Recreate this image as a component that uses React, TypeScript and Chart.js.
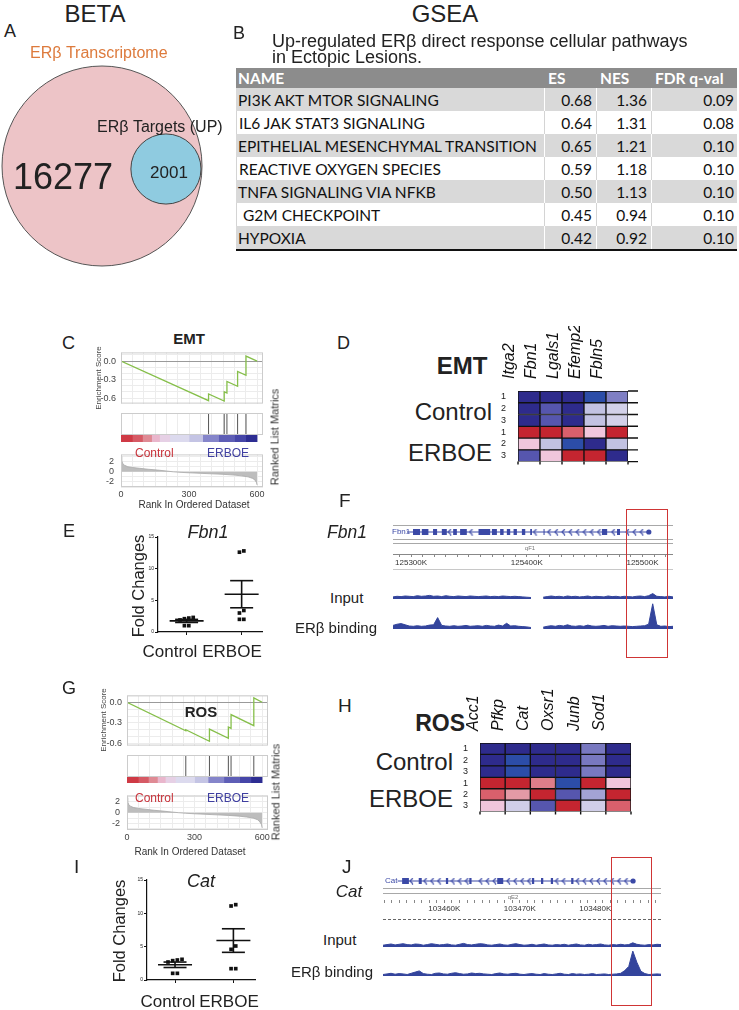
import React, { useEffect, useRef } from 'react';
import { Chart, registerables } from 'chart.js';

Chart.register(...registerables);
const SANS = "'Liberation Sans', Arial, Helvetica, sans-serif";
const TABLE_FONT = "Lato, 'Noto Sans', sans-serif";
Chart.defaults.font.family = SANS;

// ---------------- DATA ----------------
const VENN_LABELS = ['ERβ Transcriptome', 'ERβ Targets (UP)'];
const VENN_COUNTS = [16277, 2001];

const TABLE_COLUMNS = ['NAME', 'ES', 'NES', 'FDR q-val'];
const PATHWAYS = [
  'PI3K AKT MTOR SIGNALING',
  'IL6 JAK STAT3 SIGNALING',
  'EPITHELIAL MESENCHYMAL TRANSITION',
  'REACTIVE OXYGEN SPECIES',
  'TNFA SIGNALING VIA NFKB',
  '\u00a0G2M CHECKPOINT',
  'HYPOXIA',
];
const PATHWAY_ES = [0.68, 0.64, 0.65, 0.59, 0.5, 0.45, 0.42];
const PATHWAY_NES = [1.36, 1.31, 1.21, 1.18, 1.13, 0.94, 0.92];
const PATHWAY_FDR = [0.09, 0.08, 0.1, 0.1, 0.1, 0.1, 0.1];

const EMT_ES_RANKS = [0, 386, 386, 455, 455, 467, 467, 514, 514, 551, 551, 600];
const EMT_ES_SCORES = [0, -0.643, -0.533, -0.648, -0.5, -0.52, -0.33, -0.41, -0.17, -0.23, 0.08, 0];
const EMT_HITS = [386, 455, 467, 514, 551];
const ROS_ES_RANKS = [0, 261, 261, 366, 366, 450, 450, 462, 462, 563, 563, 600];
const ROS_ES_SCORES = [0, -0.415, -0.4, -0.567, -0.39, -0.524, -0.36, -0.38, -0.18, -0.34, 0.064, 0];
const ROS_HITS = [261, 366, 450, 462, 563];
const METRIC_RANKS = [0, 3, 8, 15, 30, 50, 80, 120, 160, 200, 230, 260, 300, 350, 400, 450, 500, 530, 560, 580, 590, 597, 600];
const EMT_METRIC = [3.0, 2.2, 1.6, 1.3, 1.0, 0.85, 0.7, 0.5, 0.35, 0.15, 0, -0.1, -0.2, -0.3, -0.4, -0.5, -0.65, -0.8, -1.0, -1.3, -1.6, -2.1, -2.6];
const ROS_METRIC = [2.8, 2.0, 1.5, 1.2, 0.95, 0.8, 0.65, 0.45, 0.3, 0.12, 0, -0.1, -0.2, -0.3, -0.4, -0.5, -0.65, -0.8, -1.0, -1.3, -1.7, -2.2, -2.8];
const RANK_LABELS = [0, 300, 600];
const ES_LABELS = [-0.6, -0.3, 0];
const METRIC_LABELS = [-2, 0, 2];
const COLORBAR_BOUNDS = [0, 50, 95, 135, 170, 215, 300, 360, 430, 500, 550, 600];
const COLORBAR_COLORS = ['#cf3a45', '#d65a65', '#df8a94', '#e9b6cc', '#e6d0e5', '#dcdaee', '#c4c4e4', '#8585ca', '#5e5eb6', '#4646a8', '#2d2d92'];

const SAMPLE_GROUPS = ['Control', 'ERBOE'];
const SAMPLE_REPS = ['1', '2', '3', '1', '2', '3'];
const EMT_GENES = ['Itga2', 'Fbn1', 'Lgals1', 'Efemp2', 'Fbln5'];
const EMT_Z = [
  [-1, -1, -1, -0.8, -0.42],
  [-1, -0.6, -1, -0.2, -0.1],
  [-1, -0.6, -1, -0.2, -0.1],
  [0.9, 0.9, 0.6, 0.15, 0.9],
  [0.15, -0.2, -0.8, -1, -0.2],
  [-0.6, 0.15, 0.9, 0.9, -1],
];
const ROS_GENES = ['Acc1', 'Pfkp', 'Cat', 'Oxsr1', 'Junb', 'Sod1'];
const ROS_Z = [
  [-1, -1, -1, -1, -0.45, -1],
  [-1, -0.8, -1, -1, -0.45, -1],
  [-1, -0.8, -1, -1, -0.45, -1],
  [0.9, 0.9, 0.5, -0.8, 0.9, 0.15],
  [0.6, 0.4, 0.9, -0.6, -0.3, 0.9],
  [0.15, -0.12, -0.6, 0.9, -0.12, 0.6],
];

const FBN1_CONTROL = [2.1, 2.3, 1.9, 2.2, 1.0, 1.0];
const FBN1_ERBOE = [12.6, 12.8, 3.4, 3.0, 2.0, 2.0];
const CAT_CONTROL = [3.1, 2.9, 2.7, 3.0, 1.0, 1.0];
const CAT_ERBOE = [11.1, 11.3, 5.1, 4.6, 1.7, 1.7];

const FBN1_LOCUS = [125284.4, 125526.4];
const FBN1_GENE = [125296.5, 125505.5];
const FBN1_EXONS = [
  [125301.7, 125307.8], [125309.3, 125315], [125319, 125322.5], [125326.6, 125330.9],
  [125336.4, 125339.6], [125342.4, 125348.2], [125358.3, 125368.4], [125369.9, 125374.2],
  [125377, 125380], [125382.8, 125385.7], [125388.6, 125391.5], [125395.8, 125398.7],
  [125403, 125404.5], [125414.5, 125415.4], [125465, 125469.5], [125478, 125480.6],
];
const FBN1_INPUT = [
  0.7, 0.9, 0.8, 1.0, 0.9, 0.8, 1.1, 0.9, 1.0, 1.2,
  0.9, 1.0, 0.8, 1.1, 0.9, 0.8, 1.0, 0.9, 0.8, 1.0,
  0.9, 0.8, 0.9, 1.0, 0.8, 0.9, 0.8, 1.0, 0.9, 0.8,
  0.9, 0.8, 0.7, 0.6, 0.5, null, null, 0.6, 0.8, 1.0,
  0.8, 0.9, 0.7, 1.0, 0.8, 0.9, 0.7, 0.8, 1.0, 0.7,
  0.9, 0.8, 0.7, 1.0, 0.8, 0.9, 0.7, 0.9, 0.8, 0.7,
  0.9, 1.0, 0.8, 1.1, 1.8, 0.9, 0.8, 0.7, 0.9, 0.7,
];
const FBN1_BINDING = [
  1.2, 1.6, 1.8, 1.4, 1.0, 0.9, 1.1, 0.9, 1.0, 1.3,
  1.4, 3.8, 1.2, 1.0, 0.9, 1.1, 0.9, 1.0, 1.2, 0.9,
  1.0, 1.1, 0.9, 1.2, 1.0, 0.9, 1.3, 1.0, 1.9, 1.0,
  1.1, 0.9, 0.8, 0.7, 0.5, null, null, 0.6, 0.9, 1.1,
  0.9, 1.2, 1.0, 1.4, 1.0, 0.9, 1.1, 0.9, 1.3, 1.0,
  0.9, 1.0, 1.2, 0.9, 1.1, 1.0, 0.9, 1.0, 0.9, 0.8,
  0.9, 1.0, 1.1, 1.6, 8.4, 1.4, 0.9, 1.0, 0.8, 0.9,
];
const CAT_LOCUS = [103451.9, 103488.7];
const CAT_GENE = [103453.8, 103485.0];
const CAT_EXONS = [
  [103454.4, 103455.3], [103456.6, 103457.0], [103460.2, 103460.5], [103463.3, 103463.6],
  [103467.0, 103467.8], [103471.6, 103471.9], [103472.8, 103473.1], [103474.1, 103474.4],
  [103476.8, 103477.1],
];
const CAT_INPUT = [
  0.6, 0.8, 1.0, 0.7, 0.9, 1.1, 0.8, 0.7, 1.0, 0.9,
  0.6, 0.8, 1.1, 0.9, 0.7, 0.8, 1.0, 0.7, 0.6, 0.9,
  1.2, 0.8, 0.7, 0.9, 1.1, 1.0, 0.7, 0.6, 0.8, 1.0,
  0.7, 0.6, 0.9, 1.1, 0.8, 0.6, 0.7, 0.9, 0.6, 0.8,
  1.0, 0.7, 0.6, 0.8, 0.7, 0.9, 0.6, 0.8, 1.0, 0.7,
  0.6, 0.9, 0.7, 0.8, 1.0, 0.7, 0.6, 0.8, 0.7, 0.9,
  0.7, 0.8, 1.4, 0.9, 0.7, 0.6, 0.8, 0.7, 0.9, 0.8,
];
const CAT_BINDING = [
  0.5, 0.7, 0.9, 0.6, 0.8, 0.7, 0.5, 0.9, 1.3, 1.7,
  0.8, 0.6, 0.5, 0.9, 1.0, 0.7, 0.6, 0.9, 1.1, 0.8,
  0.6, 0.7, 1.0, 0.8, 0.9, 0.7, 0.6, 0.5, 0.8, 1.0,
  0.7, 0.6, 0.8, 0.9, 0.6, 0.5, 0.7, 0.8, 0.6, 0.5,
  0.8, 0.6, 0.5, 0.7, 0.9, 0.6, 0.5, 0.8, 0.6, 0.7,
  0.5, 0.6, 0.8, 0.5, 0.6, 0.7, 0.5, 0.6, 0.7, 0.9,
  1.8, 3.2, 8.3, 4.6, 1.6, 0.8, 0.5, 0.6, 0.7, 0.6,
];

// ---------------- HELPERS ----------------
const RANK_MAX = 626;
const RANK_GRID = Array.from({ length: 13 }, (_, i) => i * 50);
const ES_GRID = [-0.6, -0.5, -0.4, -0.3, -0.2, -0.1, 0, 0.1];
const METRIC_GRID = [-3, -2, -1, 0, 1, 2, 3];
const GENE_COLOR = '#3b49a6';
const TRACK_COLOR = '#33449c';

const HEAT_STOPS: [number, string][] = [
  [-1, '#2e2b8c'], [-0.8, '#2c4da8'], [-0.6, '#5656ae'], [-0.4, '#8383c6'], [-0.2, '#c2c2e2'],
  [0, '#e4e0f0'], [0.15, '#f0c6dc'], [0.4, '#e39aa6'], [0.6, '#d9606c'], [0.9, '#c42530'], [1, '#b81e28'],
];
function hex(c: string) { return [1, 3, 5].map((i) => parseInt(c.slice(i, i + 2), 16)); }
function heatColor(z: number) {
  for (let i = 0; i < HEAT_STOPS.length - 1; i++) {
    const [a, ca] = HEAT_STOPS[i];
    const [b, cb] = HEAT_STOPS[i + 1];
    if (z <= b) {
      const t = Math.max(0, (z - a) / (b - a));
      const A = hex(ca), B = hex(cb);
      return `rgb(${A.map((v, k) => Math.round(v + (B[k] - v) * t)).join(',')})`;
    }
  }
  return HEAT_STOPS[HEAT_STOPS.length - 1][1];
}
const mean = (v: number[]) => v.reduce((s, x) => s + x, 0) / v.length;
const sem = (v: number[]) => {
  const m = mean(v);
  return Math.sqrt(v.reduce((s, x) => s + (x - m) ** 2, 0) / (v.length - 1)) / Math.sqrt(v.length);
};
function swarmX(values: number[], center: number, step: number, gap: number) {
  const idx = values.map((_, i) => i).sort((a, b) => values[a] - values[b]);
  const groups: number[][] = [];
  idx.forEach((i) => {
    const g = groups[groups.length - 1];
    if (g && values[i] - values[g[0]] < gap) g.push(i); else groups.push([i]);
  });
  const xs: number[] = new Array(values.length);
  groups.forEach((g) => g.forEach((i, k) => { xs[i] = center + (k - (g.length - 1) / 2) * step; }));
  return xs;
}

const baseOptions = (padding: any, scales: any) => ({
  responsive: false,
  maintainAspectRatio: false,
  animation: false,
  devicePixelRatio: 1,
  events: [],
  layout: { padding, autoPadding: false },
  plugins: { legend: { display: false }, tooltip: { enabled: false }, title: { display: false } },
  scales,
});
const framePlugin = (color: string) => ({
  id: 'frame',
  afterDraw(chart: any) {
    const { ctx, chartArea: a } = chart;
    ctx.save();
    ctx.strokeStyle = color;
    ctx.lineWidth = 1;
    ctx.strokeRect(a.left + 0.5, a.top + 0.5, a.right - a.left - 1, a.bottom - a.top - 1);
    ctx.restore();
  },
});
const hidden = (min: number, max: number) => ({ type: 'linear', display: false, min, max });

function ChartBox({ x, y, w, h, config }: { x: number; y: number; w: number; h: number; config: () => any }) {
  const ref = useRef<HTMLCanvasElement>(null);
  useEffect(() => {
    const chart = new Chart(ref.current as HTMLCanvasElement, config());
    return () => chart.destroy();
  }, []);
  return <canvas ref={ref} width={w} height={h} style={{ position: 'absolute', left: x, top: y, width: w, height: h }} />;
}

function T({ x, y, s, children, a = 'start', b = false, i = false, c = '#222', r = 0, f = SANS }: any) {
  const tx = a === 'middle' ? '-50%' : a === 'end' ? '-100%' : '0';
  const transform = r ? `translate(-50%, -50%) rotate(${r}deg)` : `translateX(${tx})`;
  return (
    <div style={{ position: 'absolute', left: x, top: r ? y : y - s / 2, fontSize: s, lineHeight: `${s}px`, fontWeight: b ? 'bold' : 'normal', fontStyle: i ? 'italic' : 'normal', color: c, fontFamily: f, whiteSpace: 'nowrap', transform }}>
      {children}
    </div>
  );
}

// ---------------- PANELS ----------------
function Venn() {
  const config = () => {
    const R = 100;
    const r = R * Math.sqrt(VENN_COUNTS[1] / VENN_COUNTS[0]);
    return {
      type: 'bubble',
      data: {
        datasets: [{
          data: [{ x: 0, y: 0, r: R }, { x: R - r - 1, y: -3, r }],
          backgroundColor: ['#edc4c7', '#8fcbe0'],
          borderColor: ['#555555', '#444444'],
          borderWidth: 1,
          clip: false,
        }],
      },
      options: baseOptions(0, { x: hidden(-102, 108), y: hidden(-106, 106) }),
    };
  };
  return (
    <>
      <ChartBox x={0} y={60} w={210} h={212} config={config} />
      <T x={95} y={14} s={24} a="middle">BETA</T>
      <T x={4} y={31} s={18}>A</T>
      <T x={30} y={53} s={16} c="#dd7a3c">{VENN_LABELS[0]}</T>
      <T x={97} y={127} s={16}>{VENN_LABELS[1]}</T>
      <T x={63} y={177} s={36} a="middle">{VENN_COUNTS[0]}</T>
      <T x={169} y={172} s={17} a="middle">{VENN_COUNTS[1]}</T>
    </>
  );
}

function GseaTable() {
  const widths = [308, 52, 55, 86];
  const headH = 20, rowH = 23;
  const cell = (w: number, align: string, pad: number, sep: string | null, content: any, key: number) => (
    <div key={key} style={{ width: w, boxSizing: 'border-box', display: 'flex', alignItems: 'center', whiteSpace: 'nowrap', justifyContent: align, paddingLeft: align === 'flex-start' ? pad : 0, paddingRight: align === 'flex-end' ? pad : 0, borderLeft: sep ? `1px solid ${sep}` : 'none' }}>{content}</div>
  );
  return (
    <div style={{ position: 'absolute', left: 236, top: 68, width: widths.reduce((s, v) => s + v, 0), fontFamily: TABLE_FONT, fontSize: 15.5, color: '#111', borderBottom: '2px solid #111' }}>
      <div style={{ display: 'flex', height: headH, background: '#8c8c8c', color: '#fff', fontWeight: 'bold' }}>
        {TABLE_COLUMNS.map((c, k) => cell(widths[k], 'flex-start', k === 0 ? 2 : 4, null, c, k))}
      </div>
      {PATHWAYS.map((p, r) => {
        const gray = r % 2 === 0;
        const sep = gray ? '#ffffff' : '#d4d4d4';
        return (
          <div key={r} style={{ display: 'flex', height: rowH, background: gray ? '#d9d9d9' : '#ffffff', borderLeft: gray ? 'none' : '1px solid #d4d4d4' }}>
            {cell(widths[0] - (gray ? 0 : 1), 'flex-start', 2, null, p, 0)}
            {cell(widths[1], 'flex-end', 4, sep, PATHWAY_ES[r].toFixed(2), 1)}
            {cell(widths[2], 'flex-end', 4, sep, PATHWAY_NES[r].toFixed(2), 2)}
            {cell(widths[3], 'flex-end', 3, sep, PATHWAY_FDR[r].toFixed(2), 3)}
          </div>
        );
      })}
    </div>
  );
}

function GseaPlot({ g, esRanks, esScores, hits, metric }: any) {
  const gridX = (labels: boolean, h: number) => ({
    type: 'linear', min: 0, max: RANK_MAX,
    afterBuildTicks: (s: any) => { s.ticks = RANK_GRID.map((v) => ({ value: v })); },
    ticks: { display: labels, autoSkip: false, maxRotation: 0, padding: 2, font: { size: 9 }, color: '#444', callback: (v: number) => (RANK_LABELS.includes(v) ? String(v) : '') },
    grid: { color: '#ececec', drawTicks: false },
    border: { display: false },
    afterFit: (s: any) => { s.height = h; },
  });
  const esCfg = () => ({
    type: 'scatter',
    data: { datasets: [{ data: esRanks.map((r: number, i: number) => ({ x: r, y: esScores[i] })), showLine: true, borderColor: '#86bf4a', borderWidth: 1.3, pointRadius: 0, tension: 0 }] },
    options: baseOptions({ top: 2, right: 4, bottom: 1, left: 0 }, {
      x: gridX(false, 0),
      y: {
        type: 'linear', min: g.esMin, max: g.esMax,
        afterBuildTicks: (s: any) => { s.ticks = ES_GRID.filter((v) => v >= g.esMin && v <= g.esMax).map((v) => ({ value: v })); },
        ticks: { autoSkip: false, padding: 5, font: { size: 9 }, color: '#444', callback: (v: number) => (ES_LABELS.some((t) => Math.abs(t - v) < 1e-6) ? (Math.abs(v) < 1e-6 ? '0.0' : v.toFixed(1)) : '') },
        grid: { drawTicks: false, color: (c: any) => (c.tick && Math.abs(c.tick.value) < 1e-6 ? '#9a9a9a' : '#ececec') },
        border: { display: false },
        afterFit: (s: any) => { s.width = 30; },
      },
    }),
    plugins: [framePlugin('#cccccc')],
  });
  const hitsCfg = () => ({
    type: 'scatter',
    data: { datasets: [{ data: hits.map((r: number) => ({ x: r, y: 0.5 })), pointStyle: 'line', pointRadius: (g.hitsBottom - g.esBottom) / 2, pointRotation: 90, pointBorderColor: '#555', pointBorderWidth: 1, clip: false }] },
    options: baseOptions(0, { x: gridX(false, 0), y: hidden(0, 1) }),
    plugins: [framePlugin('#cccccc')],
  });
  const barCfg = () => ({
    type: 'bar',
    data: {
      labels: [''],
      datasets: COLORBAR_COLORS.map((c, i) => ({ data: [[COLORBAR_BOUNDS[i], COLORBAR_BOUNDS[i + 1]]], backgroundColor: c, grouped: false, barPercentage: 1, categoryPercentage: 1, borderWidth: 0 })),
    },
    options: { ...baseOptions(0, { x: hidden(0, RANK_MAX), y: { type: 'category', display: false } }), indexAxis: 'y' },
  });
  const metricCfg = () => ({
    type: 'scatter',
    data: { datasets: [{ data: METRIC_RANKS.map((r, i) => ({ x: r, y: metric[i] })), showLine: true, fill: 'origin', backgroundColor: '#bdbdbd', borderColor: '#a8a8a8', borderWidth: 0.8, pointRadius: 0 }] },
    options: baseOptions({ top: 0, right: 10, bottom: 0, left: 0 }, {
      x: gridX(true, 23),
      y: {
        type: 'linear', min: g.mMin, max: g.mMax,
        afterBuildTicks: (s: any) => { s.ticks = METRIC_GRID.map((v) => ({ value: v })); },
        ticks: { autoSkip: false, padding: 7, font: { size: 9 }, color: '#444', callback: (v: number) => (METRIC_LABELS.includes(v) ? String(v) : '') },
        grid: { drawTicks: false, color: '#ececec' },
        border: { display: false },
        afterFit: (s: any) => { s.width = 30; },
      },
    }),
    plugins: [framePlugin('#cccccc')],
  });
  const L = g.plotLeft, R = g.plotRight;
  return (
    <>
      <ChartBox x={L - 30} y={g.esTop - 2} w={R + 4 - (L - 30)} h={g.esBottom - g.esTop + 3} config={esCfg} />
      <ChartBox x={L} y={g.esBottom} w={R - L} h={g.hitsBottom - g.esBottom} config={hitsCfg} />
      <ChartBox x={L} y={g.hitsBottom} w={R - L} h={g.barBottom - g.hitsBottom} config={barCfg} />
      <ChartBox x={L - 30} y={g.barBottom} w={R + 10 - (L - 30)} h={g.metricBottom - g.barBottom + 23} config={metricCfg} />
    </>
  );
}

function DotPlot({ x, y, w, h, groups, xMin, xMax }: any) {
  const config = () => {
    const pts: any[] = [];
    groups.forEach((vals: number[], gi: number) => {
      const xs = swarmX(vals, gi + 1, 0.08, 0.7);
      vals.forEach((v, i) => pts.push({ x: xs[i], y: v }));
    });
    const meanSem = {
      id: 'meanSem',
      afterDatasetsDraw(chart: any) {
        const { ctx, scales } = chart;
        const sx = scales.x, sy = scales.y;
        ctx.save();
        ctx.strokeStyle = '#111';
        ctx.lineWidth = 1.6;
        const hl = (x0: number, x1: number, v: number) => { const py = sy.getPixelForValue(v); ctx.beginPath(); ctx.moveTo(x0, py); ctx.lineTo(x1, py); ctx.stroke(); };
        groups.forEach((vals: number[], gi: number) => {
          const m = mean(vals), s = sem(vals), cx = sx.getPixelForValue(gi + 1);
          hl(cx - 17, cx + 17, m);
          hl(cx - 11.5, cx + 11.5, m + s);
          hl(cx - 11.5, cx + 11.5, m - s);
          ctx.beginPath(); ctx.moveTo(cx, sy.getPixelForValue(m - s)); ctx.lineTo(cx, sy.getPixelForValue(m + s)); ctx.stroke();
        });
        ctx.restore();
      },
    };
    return {
      type: 'scatter',
      data: { datasets: [{ data: pts, pointStyle: 'rect', pointRadius: 2.6, backgroundColor: '#111', borderWidth: 0, clip: false }] },
      options: baseOptions({ top: 7, right: 10, bottom: 0, left: 0 }, {
        x: {
          type: 'linear', min: xMin, max: xMax,
          afterBuildTicks: (s: any) => { s.ticks = SAMPLE_GROUPS.map((_, i) => ({ value: i + 1 })); },
          ticks: { display: false },
          grid: { drawOnChartArea: false, drawTicks: true, tickLength: 3, color: '#111', tickWidth: 1 },
          border: { display: true, color: '#111', width: 1.2 },
          afterFit: (s: any) => { s.height = 33; },
        },
        y: {
          type: 'linear', min: 0, max: 15,
          ticks: { stepSize: 5, padding: 1, font: { size: 5 }, color: '#222' },
          grid: { drawOnChartArea: false, tickLength: 3, color: '#111', tickWidth: 1 },
          border: { display: true, color: '#111', width: 1.2 },
          afterFit: (s: any) => { s.width = 12; },
        },
      }),
      plugins: [meanSem],
    };
  };
  return <ChartBox x={x} y={y} w={w} h={h} config={config} />;
}

function Heatmap({ x, y, w, h, genes, z, padRight, stub }: any) {
  const config = () => {
    const n = z.length;
    const gridStub = {
      id: 'gridStub',
      afterDatasetsDraw(chart: any) {
        const { ctx, chartArea: a, scales } = chart;
        ctx.save();
        ctx.strokeStyle = '#111';
        ctx.lineWidth = 1.4;
        ctx.beginPath();
        if (stub) {
          for (let v = 0; v <= n; v++) { const py = scales.y.getPixelForValue(v); ctx.moveTo(a.right, py); ctx.lineTo(a.right + stub, py); }
        }
        for (let i = 0; i <= genes.length; i++) { const px = a.left + ((a.right - a.left) * i) / genes.length; ctx.moveTo(px, a.bottom); ctx.lineTo(px, a.bottom + 3); }
        ctx.stroke();
        ctx.restore();
      },
    };
    return {
      type: 'bar',
      data: {
        labels: genes,
        datasets: z.slice().reverse().map((row: number[]) => ({
          data: row.map(() => 1),
          backgroundColor: row.map(heatColor),
          borderColor: '#111', borderWidth: 1, borderSkipped: false,
          barPercentage: 1, categoryPercentage: 1,
        })),
      },
      options: baseOptions({ top: 0, right: padRight, bottom: 4, left: 0 }, {
        x: {
          position: 'top', stacked: true,
          grid: { display: false }, border: { display: false },
          ticks: { minRotation: 90, maxRotation: 90, autoSkip: false, padding: 4, color: '#111', font: { size: 16, style: 'italic' } },
          afterFit: (s: any) => { s.height = 65; },
        },
        y: {
          type: 'linear', stacked: true, min: 0, max: n,
          afterBuildTicks: (s: any) => { s.ticks = z.map((_: any, i: number) => ({ value: i + 0.5 })); },
          ticks: { autoSkip: false, padding: 4, font: { size: 9 }, color: '#222', callback: (v: number) => SAMPLE_REPS[n - 1 - Math.floor(v)] },
          grid: { display: false }, border: { display: false },
          afterFit: (s: any) => { s.width = 18; },
        },
      }),
      plugins: [gridStub],
    };
  };
  return <ChartBox x={x} y={y} w={w} h={h} config={config} />;
}

function chevron(color: string) {
  const c = document.createElement('canvas');
  c.width = 5; c.height = 7;
  const g = c.getContext('2d') as CanvasRenderingContext2D;
  g.strokeStyle = color; g.lineWidth = 1.1;
  g.beginPath(); g.moveTo(4, 0.5); g.lineTo(1, 3.5); g.lineTo(4, 6.5); g.stroke();
  return c;
}

function GeneTrack({ x, y, w, chartH, locus, gene, exons, geneY, lines, minor, major, showBorder }: any) {
  const config = () => {
    const exonPts: any[] = [];
    exons.forEach(([s, e]: number[]) => { exonPts.push({ x: s, y: geneY }, { x: e, y: geneY }, { x: e, y: null }); });
    const chev: any[] = [];
    const spacing = (gene[1] - gene[0]) / 34;
    for (let p = gene[0] + spacing; p < gene[1] - spacing / 2; p += spacing) {
      if (!exons.some(([s, e]: number[]) => p > s - spacing / 3 && p < e + spacing / 3)) chev.push({ x: p, y: geneY });
    }
    const ticks: number[] = [];
    for (let v = Math.ceil(locus[0] / minor) * minor; v <= locus[1]; v += minor) ticks.push(v);
    return {
      type: 'scatter',
      data: {
        datasets: [
          { data: [{ x: gene[0], y: geneY }, { x: gene[1], y: geneY }], showLine: true, borderColor: GENE_COLOR, borderWidth: 1, pointRadius: 0 },
          { data: exonPts, showLine: true, spanGaps: false, borderColor: GENE_COLOR, borderWidth: 6, borderCapStyle: 'butt', pointRadius: 0 },
          { data: chev, pointStyle: chevron(GENE_COLOR), pointRadius: 3 },
          { data: [{ x: gene[1], y: geneY }], pointStyle: 'circle', pointRadius: 2.6, backgroundColor: GENE_COLOR, borderWidth: 0 },
        ],
      },
      options: baseOptions(0, {
        x: {
          type: 'linear', min: locus[0], max: locus[1],
          afterBuildTicks: (s: any) => { s.ticks = ticks.map((v) => ({ value: v })); },
          ticks: { autoSkip: false, maxRotation: 0, padding: 1, font: { size: 8 }, color: '#333', callback: (v: number) => (v % major === 0 ? `${v}K` : '') },
          grid: { drawOnChartArea: false, tickLength: 3, color: '#888' },
          border: { display: showBorder, color: '#888' },
          afterFit: (s: any) => { s.height = 16; },
        },
        y: {
          type: 'linear', min: 0, max: chartH,
          afterBuildTicks: (s: any) => { s.ticks = lines.map((v: number) => ({ value: v })); },
          ticks: { display: false },
          grid: { drawTicks: false, color: '#a8a8a8' },
          border: { display: false },
          afterFit: (s: any) => { s.width = 0; },
        },
      }),
    };
  };
  return <ChartBox x={x} y={y} w={w} h={chartH + 16} config={config} />;
}

function Coverage({ x, y, w, h, values }: any) {
  const config = () => ({
    type: 'line',
    data: { labels: values.map((_: any, i: number) => i), datasets: [{ data: values, fill: 'origin', backgroundColor: TRACK_COLOR, borderColor: TRACK_COLOR, borderWidth: 1, pointRadius: 0, spanGaps: false, tension: 0 }] },
    options: baseOptions(0, { x: { type: 'category', display: false }, y: hidden(-0.33, (h - 1) / 3) }),
  });
  return <ChartBox x={x} y={y} w={w} h={h} config={config} />;
}

const redBox = (left: number, top: number, width: number, height: number) => (
  <div style={{ position: 'absolute', left, top, width, height, border: '1.5px solid #cf3535', boxSizing: 'border-box' }} />
);

export default function App() {
  const C = { plotLeft: 121, plotRight: 263, esTop: 344, esBottom: 413, hitsBottom: 435, barBottom: 442, metricBottom: 487, esMin: -0.69, esMax: 0.14, mMin: -3, mMax: 3.43 };
  const G = { plotLeft: 127, plotRight: 268, esTop: 687, esBottom: 755, hitsBottom: 777, barBottom: 783, metricBottom: 830, esMin: -0.63, esMax: 0.1, mMin: -3.2, mMax: 3.2 };
  return (
    <div style={{ position: 'absolute', left: 0, top: 0, width: 739, height: 1010, overflow: 'hidden', background: '#fff', fontFamily: SANS, color: '#222' }}>
      {/* A */}
      <Venn />
      {/* B */}
      <T x={445} y={14} s={24} a="middle">GSEA</T>
      <T x={233} y={33} s={18}>B</T>
      <T x={272} y={41} s={18}>Up-regulated ERβ direct response cellular pathways</T>
      <T x={272} y={57} s={18}>in Ectopic Lesions.</T>
      <GseaTable />

      {/* C */}
      <T x={62} y={343} s={18}>C</T>
      <T x={189} y={338} s={15} a="middle" b>EMT</T>
      <GseaPlot g={C} esRanks={EMT_ES_RANKS} esScores={EMT_ES_SCORES} hits={EMT_HITS} metric={EMT_METRIC} />
      <T x={99} y={378} s={8} r={-90} c="#444">Enrichment Score</T>
      <T x={275} y={437} s={11} r={-90} c="#333">Ranked List Matrics</T>
      <T x={194} y={505} s={10} a="middle" c="#333">Rank In Ordered Dataset</T>
      <T x={135} y={453} s={12} c="#c8333b">Control</T>
      <T x={207} y={453} s={12} c="#3f3fa0">ERBOE</T>

      {/* D */}
      <T x={337} y={343} s={18}>D</T>
      <T x={462} y={366} s={24} a="middle" b>EMT</T>
      <T x={492} y={412} s={24} a="end">{SAMPLE_GROUPS[0]}</T>
      <T x={492} y={453} s={24} a="end">{SAMPLE_GROUPS[1]}</T>
      <Heatmap x={500} y={326} w={140} h={145} genes={EMT_GENES} z={EMT_Z} padRight={12} stub={10} />

      {/* E */}
      <T x={63} y={531} s={18}>E</T>
      <T x={208} y={532} s={18} a="middle" i>Fbn1</T>
      <T x={138} y={586} s={16.5} r={-90}>Fold Changes</T>
      <DotPlot x={146} y={530} w={126} h={135} groups={[FBN1_CONTROL, FBN1_ERBOE]} xMin={0.48} xMax={2.37} />
      <T x={170} y={651} s={17} a="middle">{SAMPLE_GROUPS[0]}</T>
      <T x={232} y={651} s={17} a="middle">{SAMPLE_GROUPS[1]}</T>

      {/* F */}
      <T x={339} y={500} s={19}>F</T>
      <T x={347} y={533} s={17.5} a="middle" i>Fbn1</T>
      <T x={392} y={532} s={8} c={GENE_COLOR}>Fbn1</T>
      <GeneTrack x={393} y={525} w={280} chartH={29} locus={FBN1_LOCUS} gene={FBN1_GENE} exons={FBN1_EXONS} geneY={22} lines={[11, 14, 29]} minor={10} major={100} showBorder={true} />
      <T x={530} y={548} s={6} a="middle" c="#777">qF1</T>
      <div style={{ position: 'absolute', left: 393, top: 569, width: 280, borderTop: '1px solid #c8c8c8' }} />
      <T x={330} y={597} s={15}>Input</T>
      <T x={377} y={627} s={15} a="end">ERβ binding</T>
      <Coverage x={393} y={588} w={280} h={12} values={FBN1_INPUT} />
      <Coverage x={393} y={600} w={280} h={30} values={FBN1_BINDING} />
      {redBox(626, 509, 42, 149)}

      {/* G */}
      <T x={62} y={688} s={18}>G</T>
      <GseaPlot g={G} esRanks={ROS_ES_RANKS} esScores={ROS_ES_SCORES} hits={ROS_HITS} metric={ROS_METRIC} />
      <T x={201} y={711} s={15} a="middle" b>ROS</T>
      <T x={104} y={720} s={8} r={-90} c="#444">Enrichment Score</T>
      <T x={276} y={792} s={11} r={-90} c="#333">Ranked List Matrics</T>
      <T x={190} y={852} s={10} a="middle" c="#333">Rank In Ordered Dataset</T>
      <T x={135} y={798} s={12} c="#c8333b">Control</T>
      <T x={207} y={798} s={12} c="#3f3fa0">ERBOE</T>

      {/* H */}
      <T x={338} y={705} s={19}>H</T>
      <T x={465} y={723} s={23} a="end" b>ROS</T>
      <T x={453} y={762} s={24} a="end">{SAMPLE_GROUPS[0]}</T>
      <T x={453} y={799} s={24} a="end">{SAMPLE_GROUPS[1]}</T>
      <Heatmap x={462} y={678} w={175} h={143} genes={ROS_GENES} z={ROS_Z} padRight={6} stub={0} />

      {/* I */}
      <T x={74} y={866} s={19}>I</T>
      <T x={201} y={881} s={18} a="middle" i>Cat</T>
      <T x={119} y={931} s={16.5} r={-90}>Fold Changes</T>
      <DotPlot x={135} y={873} w={130} h={140} groups={[CAT_CONTROL, CAT_ERBOE]} xMin={0.52} xMax={2.37} />
      <T x={168} y={1001} s={17} a="middle">{SAMPLE_GROUPS[0]}</T>
      <T x={229} y={1001} s={17} a="middle">{SAMPLE_GROUPS[1]}</T>

      {/* J */}
      <T x={342} y={866} s={19}>J</T>
      <T x={349} y={891} s={17} a="middle" i>Cat</T>
      <T x={385} y={881} s={8} c={GENE_COLOR}>Cat</T>
      <GeneTrack x={383} y={874} w={278} chartH={26} locus={CAT_LOCUS} gene={CAT_GENE} exons={CAT_EXONS} geneY={19} lines={[7, 12]} minor={1} major={10} showBorder={false} />
      <T x={513} y={897} s={6} a="middle" c="#777">qE2</T>
      <div style={{ position: 'absolute', left: 383, top: 919, width: 278, borderTop: '1px dashed #666' }} />
      <T x={323} y={939} s={15}>Input</T>
      <T x={373} y={971} s={15} a="end">ERβ binding</T>
      <Coverage x={383} y={936} w={278} h={12} values={CAT_INPUT} />
      <Coverage x={383} y={947} w={278} h={30} values={CAT_BINDING} />
      {redBox(611, 857, 41, 149)}
    </div>
  );
}
